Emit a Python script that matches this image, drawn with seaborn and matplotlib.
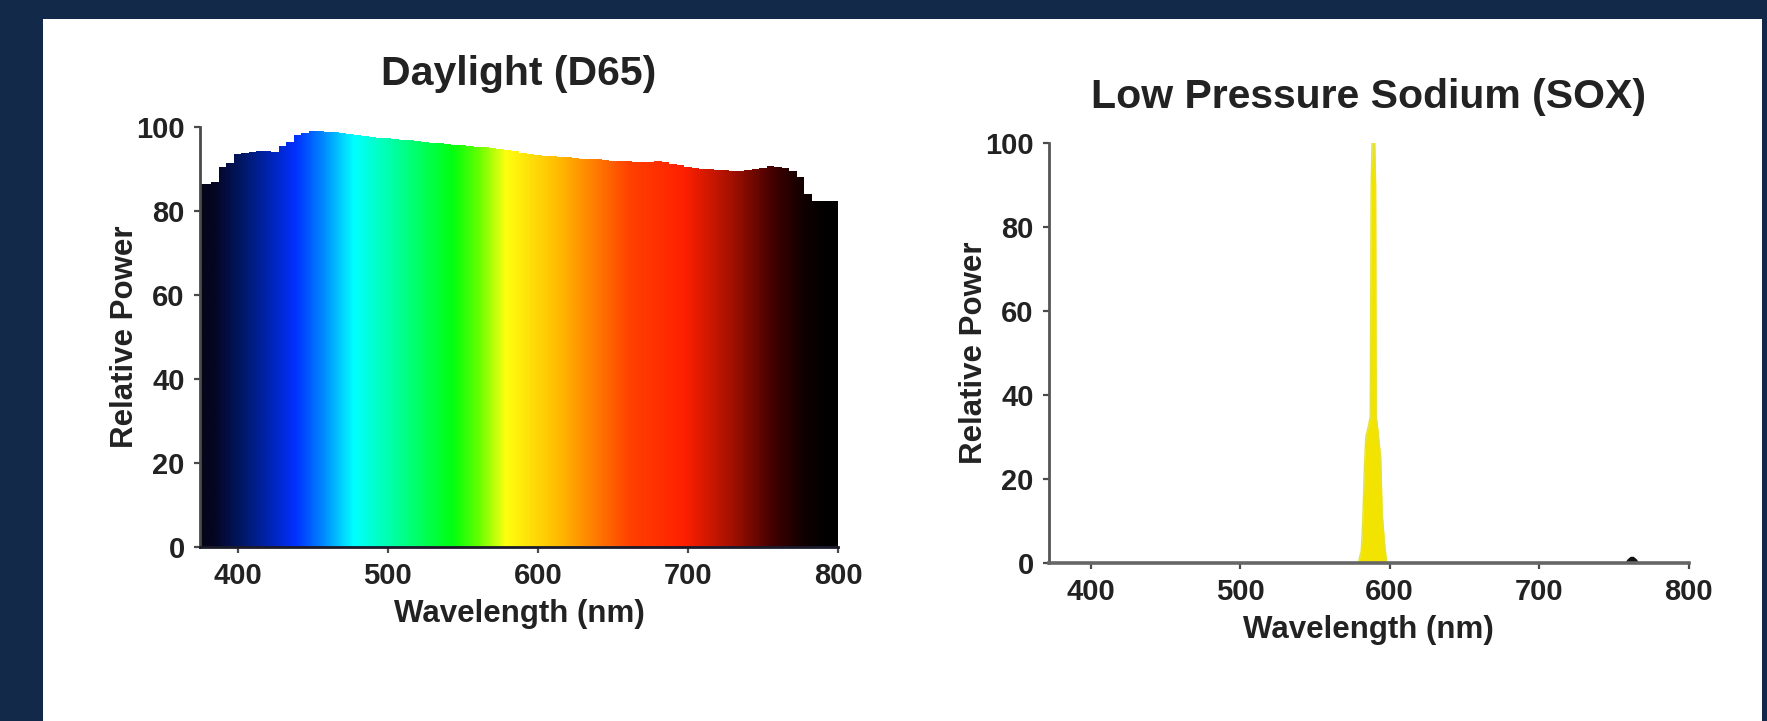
import numpy as np
import matplotlib
matplotlib.use("Agg")
import matplotlib.pyplot as plt
from matplotlib.colors import LinearSegmentedColormap, Normalize
from matplotlib.patches import Rectangle
import pandas as pd
import seaborn as sns

# ---- data -------------------------------------------------------------
d65_wavelength = list(range(375, 805, 5))
d65_power = [
    86.5, 86.5, 86.8, 90.5, 91.5, 93.5, 93.8, 94.0, 94.2, 94.3, 94.0,
    95.5, 96.5, 98.0, 98.6, 99.0, 99.0, 98.9, 98.7, 98.5, 98.3, 98.1,
    97.9, 97.7, 97.5, 97.3, 97.2, 97.0, 96.9, 96.7, 96.5, 96.3, 96.2,
    96.0, 95.8, 95.7, 95.5, 95.3, 95.2, 95.0, 94.8, 94.5, 94.2, 93.8,
    93.5, 93.3, 93.2, 93.0, 92.9, 92.8, 92.6, 92.5, 92.4, 92.3, 92.1,
    92.0, 91.9, 91.8, 91.7, 91.6, 91.7, 91.8, 91.6, 91.3, 90.9, 90.5,
    90.2, 90.0, 89.9, 89.8, 89.7, 89.6, 89.6, 89.8, 90.0, 90.3, 90.6,
    90.5, 90.2, 89.6, 88.0, 84.0, 82.5, 82.5, 82.5, 82.5,
]

sox_wavelength = [372, 579, 581, 582, 583, 584, 586, 587, 587.6, 588.2,
                  590.0, 590.6, 591, 592, 594, 595, 596.5, 598, 800]
sox_power = [0, 0, 3, 10, 22, 30, 33, 35, 90, 100,
             100, 90, 35, 32, 25, 12, 5, 0, 0]

potassium_wavelength = [757, 759, 761, 763, 765, 767]
potassium_power = [0, 1.0, 1.6, 1.6, 1.0, 0]

# colour of light along the visible band (nm, colour)
spectrum_stops = [
    (375, "#05051a"), (383, "#050520"), (405, "#001a70"), (438, "#0030ff"),
    (455, "#0080ff"), (477, "#00ffff"), (504, "#00ffa0"), (543, "#00ff10"),
    (560, "#60ff00"), (579, "#ffff10"), (615, "#ffb800"), (637, "#ff8000"),
    (662, "#ff4000"), (698, "#ff2000"), (731, "#a01000"), (758, "#400000"),
    (778, "#100000"), (794, "#000000"), (800, "#000000"),
]

x_ticks = [400, 500, 600, 700, 800]
y_ticks = [0, 20, 40, 60, 80, 100]

# ---- style ------------------------------------------------------------
sns.set_theme(style="ticks")
plt.rcParams["font.family"] = ["Liberation Sans", "DejaVu Sans"]
plt.rcParams["font.weight"] = "bold"
text_color = "#222222"
axis_color = "#4a4a4a"

W, H = 1767, 721
fig = plt.figure(figsize=(W / 100, H / 100), dpi=100)
fig.patch.set_facecolor("#12294a")
panel = Rectangle((43 / W, 0), (1762 - 43) / W, 1 - 19 / H,
                  transform=fig.transFigure, facecolor="white",
                  edgecolor="none", zorder=-10)
fig.add_artist(panel)

ax1 = fig.add_axes([200 / W, 1 - 547 / H, 638 / W, 420 / H], zorder=2)
ax2 = fig.add_axes([1049 / W, 1 - 563 / H, 639.5 / W, 420 / H], zorder=2)


def style_axes(ax, xmin, title, title_pad):
    ax.set_facecolor("none")
    ax.set_xlim(xmin, 800)
    ax.set_ylim(0, 100)
    ax.set_xticks(x_ticks)
    ax.set_yticks(y_ticks)
    ax.tick_params(direction="out", length=4, width=1.6, color=axis_color,
                   labelsize=21, labelcolor=text_color, pad=7)
    for lab in ax.get_xticklabels() + ax.get_yticklabels():
        lab.set_fontweight("bold")
    for side in ("top", "right"):
        ax.spines[side].set_visible(False)
    for side in ("left", "bottom"):
        ax.spines[side].set_color(axis_color)
        ax.spines[side].set_linewidth(2.0)
        ax.spines[side].set_zorder(5)
    ax.set_xlabel("Wavelength (nm)", fontsize=22.5, fontweight="bold",
                  color=text_color, labelpad=6)
    ax.set_ylabel("Relative Power", fontsize=22.5, fontweight="bold",
                  color=text_color, labelpad=-3)
    ax.set_title(title, fontsize=29.5, fontweight="bold", color=text_color,
                 pad=title_pad)


# ---- daylight: spectrum-coloured area ---------------------------------
d65 = pd.DataFrame({"wavelength": d65_wavelength, "power": d65_power})
lo, hi = spectrum_stops[0][0], spectrum_stops[-1][0]
cmap = LinearSegmentedColormap.from_list(
    "visible", [((w - lo) / (hi - lo), c) for w, c in spectrum_stops])
band = np.linspace(lo, hi, 1200)[None, :]
img = ax1.imshow(band, extent=[lo, hi, 0, 100], aspect="auto", origin="lower",
                 cmap=cmap, norm=Normalize(lo, hi), interpolation="bilinear",
                 zorder=1)
area = ax1.fill_between(d65["wavelength"], d65["power"], step="mid",
                        facecolor="none", edgecolor="none")
img.set_clip_path(area.get_paths()[0], ax1.transData)
sns.lineplot(data=d65, x="wavelength", y="power", ax=ax1,
             drawstyle="steps-mid", color="none", linewidth=0)
style_axes(ax1, 375, "Daylight (D65)", 30)
ax1.spines["bottom"].set_color("#1a1a2a")

# ---- low pressure sodium ---------------------------------------------
sox = pd.DataFrame({"wavelength": sox_wavelength, "power": sox_power})
ax2.fill_between(sox["wavelength"], sox["power"], color="#f2e400",
                 linewidth=0, zorder=2)
sns.lineplot(data=sox, x="wavelength", y="power", ax=ax2,
             color="#e3e23a", linewidth=1.0, zorder=3)
ax2.fill_between(potassium_wavelength, potassium_power, color="#111111",
                 linewidth=0, zorder=4)
style_axes(ax2, 372, "Low Pressure Sodium (SOX)", 25)
ax2.spines["left"].set_color("#555555")
ax2.spines["bottom"].set_color("#666666")
ax2.spines["bottom"].set_linewidth(2.6)

fig.savefig("out.png", dpi=100, facecolor=fig.get_facecolor())
